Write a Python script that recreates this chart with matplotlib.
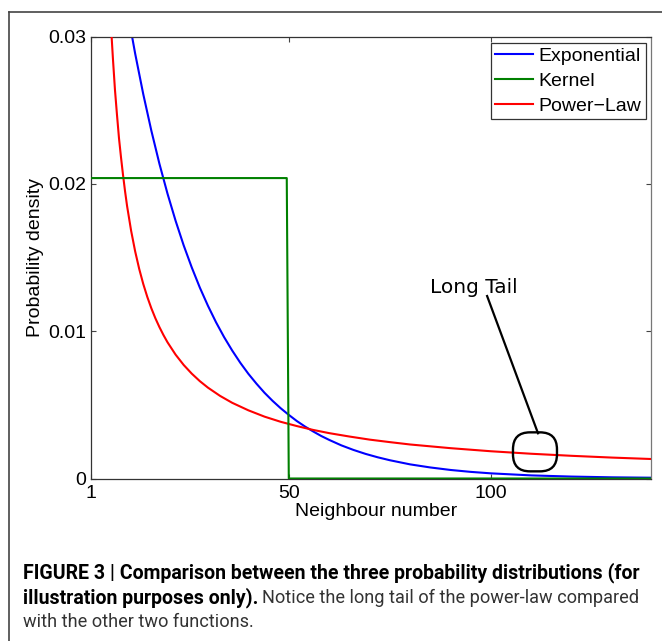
import matplotlib
matplotlib.use('Agg')
import matplotlib.pyplot as plt
import matplotlib.transforms as mtransforms
from matplotlib.lines import Line2D
from matplotlib.patches import FancyBboxPatch

plt.rcParams['font.family'] = ['Liberation Sans', 'DejaVu Sans']

# values
exp_x = [1, 5, 8, 10, 12, 14, 16, 18, 20, 22, 24, 26, 28, 30, 32, 34, 36, 38,
         40, 42, 44, 46, 48, 50, 52, 54, 56, 58, 60, 63, 66, 69, 72, 75, 80, 85,
         90, 95, 100, 110, 120, 130, 141]
exp_y = [0.05, 0.0409, 0.0352, 0.03188, 0.02885, 0.02610, 0.02362, 0.02137,
         0.01934, 0.01750, 0.01583, 0.01433, 0.01296, 0.01173, 0.01061, 0.00960,
         0.00869, 0.00786, 0.00711, 0.00644, 0.00582, 0.00527, 0.00477, 0.00432,
         0.00390, 0.00353, 0.00320, 0.00289, 0.00262, 0.00225, 0.00194, 0.00167,
         0.00144, 0.00124, 0.00096, 0.00075, 0.00058, 0.00045, 0.00035, 0.00021,
         0.00013, 0.00008, 0.00005]

kern_x = [1, 49.5, 50, 141]
kern_y = [0.0204, 0.0204, 0, 0]

pow_x = [1, 2, 3, 4, 5, 5.5, 6, 6.5, 7, 7.5, 8, 8.5, 9, 9.5, 10, 11, 12, 13, 14,
         15, 16, 17, 18, 19, 20, 22, 24, 26, 28, 30, 33, 36, 40, 44, 48, 52, 56,
         60, 65, 70, 75, 80, 90, 100, 110, 120, 130, 141]
pow_y = [0.185, 0.0925, 0.0617, 0.0463, 0.037, 0.0336, 0.0308, 0.0285, 0.0264,
         0.0247, 0.0231, 0.0218, 0.0206, 0.0195, 0.0185, 0.01682, 0.01542, 0.01423,
         0.01321, 0.01233, 0.01156, 0.01088, 0.01028, 0.00974, 0.00925, 0.00841,
         0.00771, 0.00712, 0.00661, 0.00617, 0.00561, 0.00514, 0.00463, 0.00420,
         0.00385, 0.00356, 0.00330, 0.00308, 0.00285, 0.00264, 0.00247, 0.00231,
         0.00206, 0.00185, 0.00168, 0.00154, 0.00142, 0.00131]

x_ticks = [1, 50, 100]
y_ticks = [0, 0.01, 0.02, 0.03]
y_tick_labels = ['0', '0.01', '0.02', '0.03']

fig = plt.figure(figsize=(6.62, 6.41), dpi=100)
ax = fig.add_axes([90.7 / 662, 1 - 478.5 / 641, (651 - 90.7) / 662, (478.5 - 36.7) / 641])

ax.plot(exp_x, exp_y, color='#0000ff', lw=1.5, label='Exponential', zorder=2)
ax.plot(kern_x, kern_y, color='#008000', lw=1.5, label='Kernel', zorder=4)
ax.plot(pow_x, pow_y, color='#ff0000', lw=1.5, label='Power\u2212Law', zorder=3)

ax.set_xlim(1, 139.6)
ax.set_ylim(0, 0.03)
ax.set_xticks(x_ticks)
ax.set_xticklabels([str(t) for t in x_ticks])
ax.set_yticks(y_ticks)
ax.set_yticklabels(y_tick_labels)
ax.tick_params(direction='in', length=3.5, width=0.8, top=True, right=True,
               labelsize=14, color='#444444')
ax.tick_params(axis='x', pad=5)
ax.tick_params(axis='y', pad=3)
for s in ax.spines.values():
    s.set_color('#333333')
    s.set_linewidth(0.9)
ax.spines['right'].set_color('#777777')

ax.set_xlabel('Neighbour number', fontsize=14, labelpad=1.5)
ax.xaxis.set_label_coords(0.51, -0.075)
ax.xaxis.label.set_va('center')
ax.set_ylabel('Probability density', fontsize=14, labelpad=3)

leg = ax.legend(loc='upper right', bbox_to_anchor=(0.991, 0.9864), borderaxespad=0,
                fontsize=14, fancybox=False, framealpha=1, edgecolor='#333333',
                handlelength=1.95, handletextpad=0.3, labelspacing=0.38,
                borderpad=0.22)
leg.get_frame().set_linewidth(0.9)

# "Long Tail" annotation
ax.text(84.9, 0.01262, 'Long Tail', fontsize=14.5, family='DejaVu Sans',
        ha='left', va='baseline')
ax.plot([99.06, 111.65], [0.01239, 0.00307], color='black', lw=1.6, zorder=5)
circ_tr = fig.dpi_scale_trans + mtransforms.ScaledTranslation(110.9, 0.00181, ax.transData)
ax.add_patch(FancyBboxPatch((-0.22, -0.195), 0.44, 0.39,
                            boxstyle='round,pad=0,rounding_size=0.17',
                            fill=False, ec='black', lw=1.7, transform=circ_tr, zorder=5))

# outer frame (top and left edges)
fig.add_artist(Line2D([9 / 662, 1], [1 - 12 / 641, 1 - 12 / 641], color='#444444', lw=1.2))
fig.add_artist(Line2D([9 / 662, 9 / 662], [0, 1 - 12 / 641], color='#444444', lw=1.2))

# caption
cap_font = ['Liberation Sans Narrow', 'Roboto', 'Liberation Sans']
r = fig.canvas.get_renderer()
x0 = 23 / 662
t1 = fig.text(x0, 1 - 573 / 641, 'FIGURE 3 | Comparison between the three probability distributions (for',
              fontsize=12.5, fontweight='bold', family=cap_font, va='center')
w = t1.get_window_extent(r).width
size = 12.5 * 620 / w
t1.set_fontsize(size)

t2 = fig.text(x0, 1 - 597.5 / 641, 'illustration purposes only).', fontsize=size,
              fontweight='bold', family=cap_font, va='center')
w2 = t2.get_window_extent(r).width
x_reg = x0 + (w2 + 4) / 662
t3 = fig.text(x_reg, 1 - 597.5 / 641, 'Notice the long tail of the power-law compared',
              fontsize=size, family=cap_font, va='center', color='#333333')
w3 = t3.get_window_extent(r).width
size_reg = size * (638 - x_reg * 662) / w3
t3.set_fontsize(size_reg)
fig.text(x0, 1 - 622 / 641, 'with the other two functions.', fontsize=size_reg,
         family=cap_font, va='center', color='#333333')

fig.savefig('out.png', dpi=100)
